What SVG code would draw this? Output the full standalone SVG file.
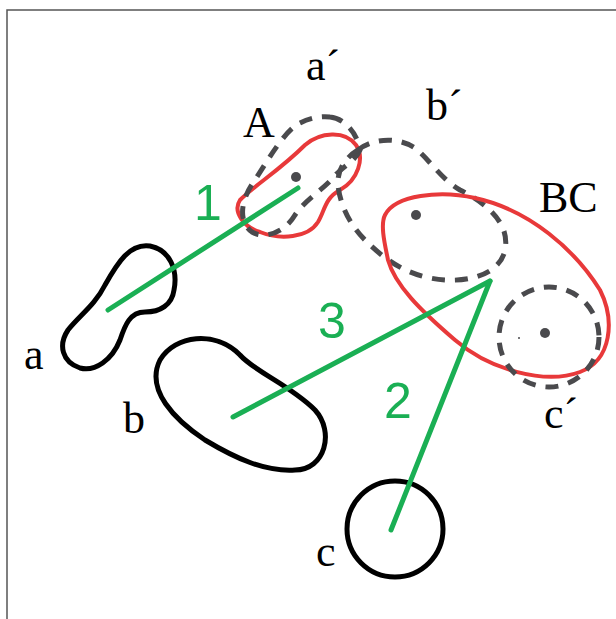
<svg xmlns="http://www.w3.org/2000/svg" width="616" height="619" viewBox="0 0 616 619">
<style>
.blk{fill:none;stroke:#000;stroke-width:5;stroke-linejoin:round}
.red{fill:none;stroke:#e8393a;stroke-width:4;stroke-linejoin:round}
.dash{fill:none;stroke:#4a4a4d;stroke-width:5;stroke-dasharray:13 10}
.dot{fill:#4a4a4d}
.grn{stroke:#1aaf54;stroke-width:5;stroke-linecap:round;fill:none}
.lbl{font-family:"Liberation Serif","Times New Roman",serif;font-size:44px;fill:#000}
.num{font-family:"Liberation Sans",Arial,sans-serif;font-size:50px;fill:#1aaf54}
</style>
<rect width="616" height="619" fill="#fff"/>
<path d="M7,619 V10 H616" fill="none" stroke="#555" stroke-width="1.5"/>
<g id="a">
<path class="blk" d="M150,246 C170,250 178,270 174,290 C172,305 160,312 145,312 C130,312 125,325 120,340 C112,360 95,372 80,368 C62,362 58,345 68,330 C80,315 95,305 105,285 C118,262 130,243 150,246 Z"/>
<text class="lbl" x="24" y="369">a</text>
</g>
<g id="b">
<path class="blk" d="M160,360 C175,335 215,330 240,355 C255,372 290,385 315,410 C335,432 325,470 295,470 C265,472 235,458 205,440 C175,420 145,390 160,360 Z"/>
<text class="lbl" x="123" y="433">b</text>
</g>
<g id="c">
<circle class="blk" cx="395" cy="529" r="48"/>
<text class="lbl" x="316" y="566">c</text>
</g>
<g id="A">
<path class="red" d="M240,200 C255,185 280,170 305,145 C320,132 345,130 356,145 C365,158 358,180 340,190 C325,198 325,210 318,222 C308,238 280,240 260,232 C245,228 232,212 240,200 Z"/>
<text class="lbl" x="243" y="137">A</text>
</g>
<g id="a-prime">
<path class="dash" d="M330,117 C345,118 358,135 360,150 C355,162 340,168 333,178 C320,192 305,200 295,215 C285,232 265,240 252,232 C238,222 240,200 255,180 C268,160 285,130 300,123 C310,118 320,116 330,117 Z"/>
<circle class="dot" cx="296" cy="177" r="5"/>
<text class="lbl" x="306" y="80">a´</text>
</g>
<g id="b-prime">
<path class="dash" d="M358,150 C370,140 395,135 415,148 C430,160 440,178 460,190 C490,205 510,225 505,250 C500,275 465,285 430,278 C400,272 380,255 365,240 C350,225 340,205 338,185 C337,170 345,158 358,150 Z"/>
<circle class="dot" cx="416" cy="215" r="5"/>
<text class="lbl" x="426" y="120">b´</text>
</g>
<g id="BC">
<path class="red" d="M385,215 C395,195 440,190 475,198 C530,210 575,250 600,290 C615,320 612,360 580,372 C545,385 490,370 455,340 C420,310 395,285 388,260 C385,245 380,225 385,215 Z"/>
<text class="lbl" x="539" y="212">BC</text>
</g>
<g id="c-prime">
<circle class="dash" cx="549" cy="337" r="50"/>
<circle class="dot" cx="545" cy="333" r="5"/>
<circle class="dot" cx="519" cy="338" r="1"/>
<text class="lbl" x="544" y="428">c´</text>
</g>
<g id="connectors">
<line class="grn" x1="108" y1="310" x2="298" y2="188"/>
<line class="grn" x1="233" y1="417" x2="490" y2="281"/>
<line class="grn" x1="490" y1="281" x2="391" y2="530"/>
<text class="num" x="194" y="220">1</text>
<text class="num" x="318" y="338">3</text>
<text class="num" x="384" y="418">2</text>
</g>
</svg>
